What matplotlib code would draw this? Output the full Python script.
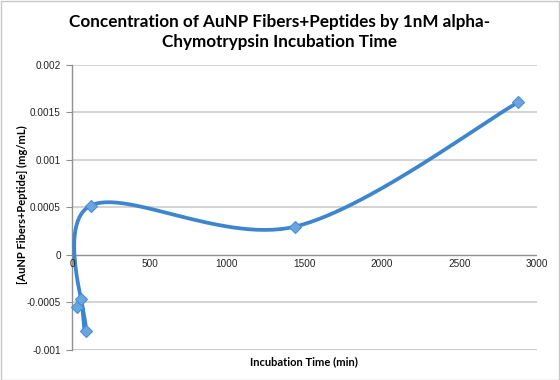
import numpy as np
import matplotlib
matplotlib.use("Agg")
import matplotlib.pyplot as plt
from matplotlib.patches import Rectangle

# data
times = [30, 60, 90, 120, 1440, 2880]
conc = [-0.000544, -0.000466, -0.000799, 0.000518, 0.000298, 0.001606]
xticks = [0, 500, 1000, 1500, 2000, 2500, 3000]
yticks = [-0.001, -0.0005, 0, 0.0005, 0.001, 0.0015, 0.002]
ytick_labels = ["-0.001", "-0.0005", "0", "0.0005", "0.001", "0.0015", "0.002"]
title = "Concentration of AuNP Fibers+Peptides by 1nM alpha-\nChymotrypsin Incubation Time"
xlabel = "Incubation Time (min)"
ylabel = "[AuNP Fibers+Peptide] (mg/mL)"

W, H = 560, 380
fig = plt.figure(figsize=(W / 100, H / 100), dpi=100)
ax = fig.add_axes([72 / W, 1 - 350 / H, (537 - 72) / W, (350 - 64.7) / H])
xmin, xmax, ymin, ymax = 0, 3000, -0.001, 0.002
ax.set_xlim(xmin, xmax)
ax.set_ylim(ymin, ymax)

# Excel-like smoothed curve (cubic Bezier, Catmull-Rom tangents in pixel space)
axw, axh = 465, 285.3
P = np.column_stack([(np.array(times) - xmin) / (xmax - xmin) * axw,
                     (np.array(conc) - ymin) / (ymax - ymin) * axh])
n = len(P)
curve = []
t = np.linspace(0, 1, 60)[:, None]
for i in range(n - 1):
    p0, p3 = P[i], P[i + 1]
    prev = P[i - 1] if i > 0 else P[i]
    nxt = P[i + 2] if i + 2 < n else P[i + 1]
    c1 = p0 + (p3 - prev) / 6
    c2 = p3 - (nxt - p0) / 6
    seg = ((1 - t) ** 3) * p0 + 3 * ((1 - t) ** 2) * t * c1 + 3 * (1 - t) * t ** 2 * c2 + t ** 3 * p3
    curve.append(seg)
curve = np.vstack(curve)
cx = curve[:, 0] / axw * (xmax - xmin) + xmin
cy = curve[:, 1] / axh * (ymax - ymin) + ymin

line_col = "#3d85cf"
ax.plot(cx, cy, color=line_col, lw=2.7, solid_capstyle="round", zorder=3, clip_on=False)
ax.plot(times, conc, linestyle="none", marker="D", ms=6.2, mfc="#6aa5e0",
        mec="#4a8fd6", mew=0.8, zorder=4, clip_on=False)

# grid and axes
for yv in yticks:
    if yv == 0:
        continue
    ax.axhline(yv, color="#d0d0d0", lw=1.3, zorder=1)
ax.axhline(ymin, color="#a0a0a0", lw=1.0, zorder=1.5)
ax.axhline(0, color="#909090", lw=1.0, zorder=2)
for s in ["top", "right", "bottom"]:
    ax.spines[s].set_visible(False)
ax.spines["left"].set_color("#909090")
ax.spines["left"].set_linewidth(1.0)

ax.set_yticks(yticks)
ax.set_yticklabels(ytick_labels)
ax.tick_params(axis="y", direction="out", length=4, width=0.8, color="#909090",
               labelsize=7.2, pad=4, labelcolor="#222222")
ax.set_xticks([])
for xv in xticks:
    ax.text(xv, -0.00004, str(xv), ha="center", va="top", fontsize=7.2,
            color="#222222", family="Liberation Sans")
for lab in ax.get_yticklabels():
    lab.set_family("Liberation Sans")

fig.text(0.5, 1 - 32 / H, title, ha="center", va="center", fontsize=12.3,
         fontweight="bold", family="Lato", linespacing=1.35)
fig.text(304 / W, 1 - 362 / H, xlabel, ha="center", va="center", fontsize=8,
         fontweight="bold", family="Lato")
fig.text(22 / W, 1 - 205 / H, ylabel, ha="center", va="center", rotation=90,
         fontsize=8, fontweight="bold", family="Lato")

fig.patches.append(Rectangle((0.5 / W, 0.5 / H), 1 - 1.5 / W, 1 - 1.5 / H,
                             transform=fig.transFigure, fill=False,
                             edgecolor="#c8c8c8", lw=1))
fig.savefig("out.png", dpi=100)
